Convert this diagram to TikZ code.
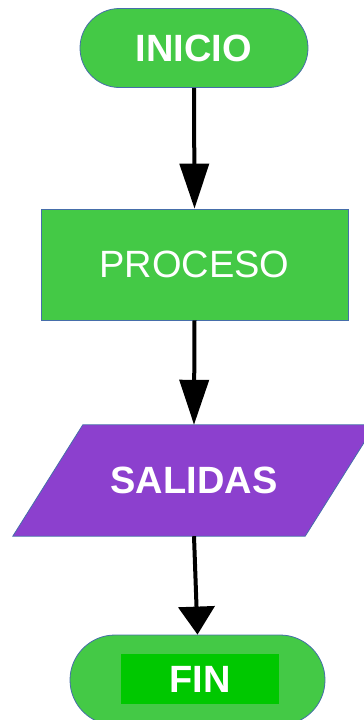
\documentclass[tikz,border=0pt]{standalone}
\usepackage{fontspec}
\setmainfont{Liberation Sans}
\usetikzlibrary{shapes.misc,arrows.meta,backgrounds}

\definecolor{boxgreen}{RGB}{68,201,70}
\definecolor{fingreen}{RGB}{0,200,0}
\definecolor{boxpurple}{RGB}{140,64,206}
\definecolor{edgeblue}{RGB}{70,110,170}

\begin{document}
\begin{tikzpicture}[x=1pt,y=-1pt,
  terminal/.style={rounded rectangle, draw=edgeblue, line width=0.8pt, fill=boxgreen, inner sep=0pt},
  procbox/.style={rectangle, draw=edgeblue, line width=0.8pt, fill=boxgreen, inner sep=0pt},
  label/.style={text=white, font=\fontsize{38}{40}\selectfont},
  boldlabel/.style={text=white, font=\bfseries\fontsize{38}{40}\selectfont},
  flow/.style={line width=4pt, -{Triangle[width=29pt,length=45pt]}}]

% Page size
\useasboundingbox (0,0) rectangle (364,720);
\clip (0,0) rectangle (364,720);

% Draw boxes
\node[terminal, minimum width=228pt, minimum height=79pt, boldlabel] (inicio) at (194,48) {INICIO};
\node[procbox, minimum width=307pt, minimum height=111pt, label] (proceso) at (194.5,264.5) {PROCESO};
\node[inner sep=0pt, minimum width=222pt, minimum height=111pt, boldlabel] (salidas) at (194,480.5) {SALIDAS};
\node[terminal, minimum width=255pt, minimum height=90pt] (finbox) at (197.5,680) {};
\node[fill=fingreen, minimum width=158pt, minimum height=50pt, inner sep=0pt, boldlabel] (fin) at (200,679) {FIN};

% Parallelogram behind the output text
\begin{scope}[on background layer]
\draw[draw=edgeblue, line width=0.8pt, fill=boxpurple]
  (salidas.north west) -- ([xshift=70pt]salidas.north east)
  -- (salidas.south east) -- ([xshift=-70pt]salidas.south west) -- cycle;
\end{scope}

% Draw arrows
\draw[flow] (inicio.south) -- (proceso.north);
\draw[flow] (proceso.south) -- (salidas.north);
\draw[line width=4pt, -{Triangle[width=36pt,length=28pt]}] (salidas.south) -- (finbox.north);

\end{tikzpicture}
\end{document}
